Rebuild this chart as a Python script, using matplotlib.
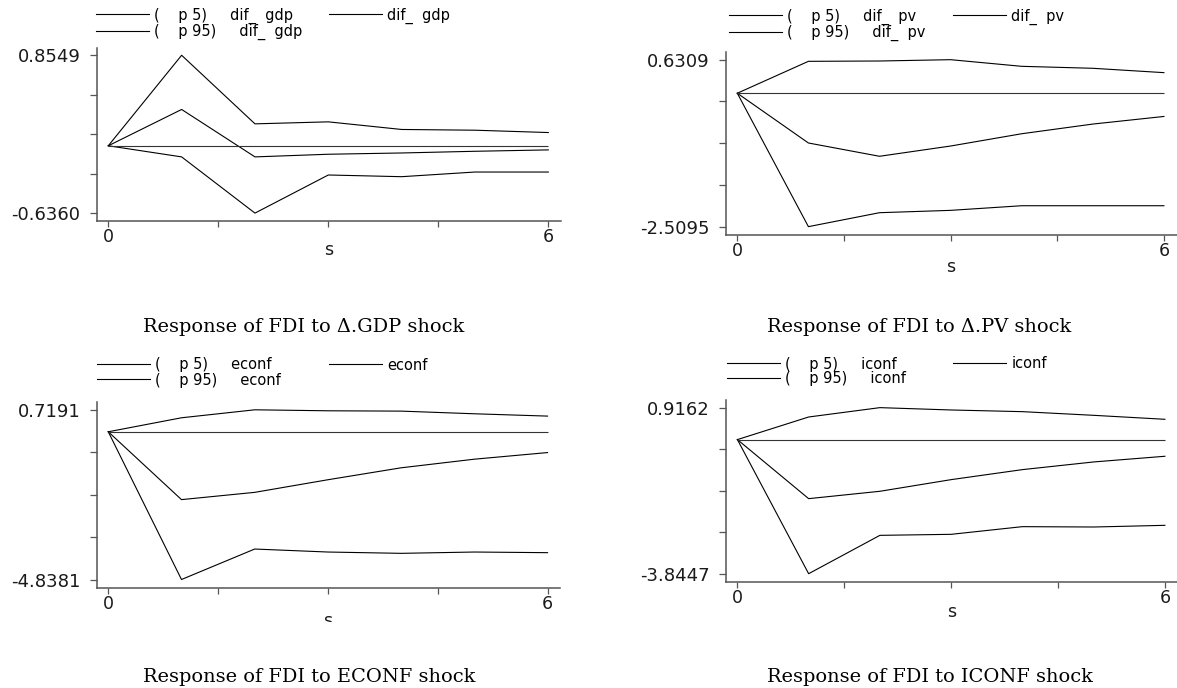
import numpy as np
import matplotlib.pyplot as plt
from matplotlib.transforms import Bbox

W, H = 1177, 688

steps = [0, 1, 2, 3, 4, 5, 6]

gdp_p5 = [0, -0.105, -0.636, -0.276, -0.292, -0.248, -0.248]
gdp_irf = [0, 0.343, -0.105, -0.080, -0.068, -0.052, -0.039]
gdp_p95 = [0, 0.8549, 0.207, 0.226, 0.154, 0.147, 0.125]

pv_p5 = [0, -2.5095, -2.247, -2.203, -2.116, -2.116, -2.116]
pv_irf = [0, -0.936, -1.186, -0.993, -0.762, -0.580, -0.437]
pv_p95 = [0, 0.600, 0.606, 0.6309, 0.506, 0.469, 0.387]

econf_p5 = [0, -4.8381, -3.840, -3.938, -3.981, -3.938, -3.959]
econf_irf = [0, -2.222, -1.984, -1.571, -1.180, -0.898, -0.681]
econf_p95 = [0, 0.458, 0.7191, 0.687, 0.676, 0.589, 0.513]

iconf_p5 = [0, -3.8447, -2.745, -2.716, -2.496, -2.506, -2.458]
iconf_irf = [0, -1.693, -1.482, -1.148, -0.861, -0.641, -0.478]
iconf_p95 = [0, 0.648, 0.9162, 0.849, 0.801, 0.696, 0.582]

var_names = ['dif_  gdp', 'dif_  pv', 'econf', 'iconf']
titles = ['Response of FDI to \u0394.GDP shock', 'Response of FDI to \u0394.PV shock',
          'Response of FDI to ECONF shock', 'Response of FDI to ICONF shock']

fig = plt.figure(figsize=(W / 100, H / 100), dpi=100)

# title font size fitted to the width of the first title
t = fig.text(0, 0, titles[0], family='DejaVu Serif', fontsize=14)
fig.canvas.draw()
w = t.get_window_extent().width
title_size = 14 * 322 / w
t.remove()

# left, top, right, bottom (pixels), xlim, legend cols x, legend row1 y, s offset, title x, title baseline
layout = [
    (97, 48, 561, 221, (-0.154, 6.173), 96, 329, 16, 29, 143, 332),
    (726, 52, 1177, 235, (-0.159, 6.184), 729, 953, 17, 32, 767, 332),
    (97, 402, 560, 588, (-0.154, 6.17), 97, 329, 366, 33, 143, 682),
    (726, 400, 1177, 582, (-0.16, 6.17), 727, 953, 365, 30, 767, 682),
]
series = [(gdp_p5, gdp_irf, gdp_p95), (pv_p5, pv_irf, pv_p95),
          (econf_p5, econf_irf, econf_p95), (iconf_p5, iconf_irf, iconf_p95)]

lfs = 10.5
for i in range(4):
    left, top, right, bottom, xlim, lx1, lx2, ly, s_off, tx, ty = layout[i]
    lo, mid, hi = series[i]
    ax = fig.add_axes([left / W, 1 - bottom / H, (right - left) / W, (bottom - top) / H])

    h_lo, = ax.plot(steps, lo, color='black', lw=0.8)
    h_mid, = ax.plot(steps, mid, color='black', lw=0.8)
    h_hi, = ax.plot(steps, hi, color='black', lw=0.8)
    ax.hlines(0, steps[0], steps[-1], color='#333333', lw=0.8)

    ymin, ymax = min(lo), max(hi)
    r = ymax - ymin
    ax.set_ylim(ymin - 0.05 * r, ymax + 0.046 * r)
    ax.set_xlim(*xlim)
    ax.set_yticks(np.linspace(ymin, ymax, 5))
    ax.set_yticklabels(['%.4f' % ymin, '', '', '', '%.4f' % ymax])
    ax.set_xticks([0, 1.5, 3, 4.5, 6])
    ax.set_xticklabels(['0', '', '', '', '6'])

    for sp in ['top', 'right']:
        ax.spines[sp].set_visible(False)
    for sp in ['left', 'bottom']:
        ax.spines[sp].set_color('#555555')
        ax.spines[sp].set_linewidth(1.1)
    ax.tick_params(axis='y', direction='out', length=5, width=0.9, color='#555555',
                   labelsize=13, pad=7, labelcolor='#1a1a1a')
    ax.tick_params(axis='x', direction='out', length=4.5, width=0.9, color='#555555',
                   labelsize=12.5, pad=0.5, labelcolor='#1a1a1a')

    v = var_names[i]
    top1 = 1 - (ly - 8.5) / H
    leg1 = ax.legend([h_lo, h_hi], ['(    p 5)     ' + v, '(    p 95)     ' + v],
                     loc='upper left', bbox_to_anchor=(lx1 / W, top1), bbox_transform=fig.transFigure,
                     frameon=False, fontsize=lfs, handlelength=3.6, handletextpad=0.4,
                     labelspacing=0.0, borderpad=0, borderaxespad=0)
    ax.add_artist(leg1)
    ax.legend([h_mid], [v], loc='upper left', bbox_to_anchor=(lx2 / W, top1),
              bbox_transform=fig.transFigure, frameon=False, fontsize=lfs,
              handlelength=3.6, handletextpad=0.4, borderpad=0, borderaxespad=0)

    s = ax.annotate('s', xy=(3, 0), xycoords=('data', 'axes fraction'), xytext=(0, -s_off),
                    textcoords='offset pixels', ha='center', va='center', fontsize=12.5,
                    color='#1a1a1a')
    if i == 2:
        s.set_clip_box(Bbox.from_extents(0, H - 622, W, H))
        s.set_clip_on(True)

    fig.text(tx / W, 1 - ty / H, titles[i], family='DejaVu Serif', fontsize=title_size,
             ha='left', va='baseline', color='black')

fig.savefig('out.png', dpi=100)
